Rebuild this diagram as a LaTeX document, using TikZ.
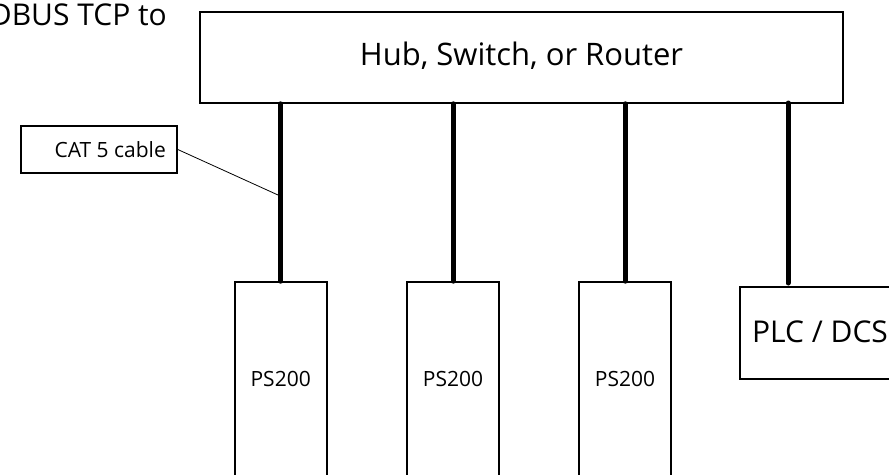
\documentclass[tikz,border=0pt]{standalone}
\usepackage{fontspec}
\setmainfont{Open Sans}
\begin{document}
\begin{tikzpicture}[x=1pt,y=-1pt,
  box/.style={draw=black,line width=1.6pt,fill=white,inner sep=0pt},
  cable/.style={line width=5pt,line cap=round},
  big/.style={font=\fontsize{31}{36}\selectfont,inner sep=0pt},
  mid/.style={font=\fontsize{30}{36}\selectfont,inner sep=0pt},
  small/.style={font=\fontsize{21}{24}\selectfont,inner sep=0pt},
  leader/.style={line width=0.8pt}]
\useasboundingbox (0,0) rectangle (889,474);
\clip (0,0) rectangle (889,474);
\fill[white] (0,0) rectangle (889,474);
% title fragment
\node[mid,anchor=base east] (title) at (167,25) {ODBUS TCP to};
% hub
\node[box,minimum width=643,minimum height=91] (hub) at (521.5,57.5) {};
\node[big] (hubtxt) at (521.5,56) {Hub, Switch, or Router};
% PS200 boxes
\node[box,minimum width=92,minimum height=236] (ps1) at (280.7,400) {};
\node[box,minimum width=92,minimum height=236] (ps2) at (453,400) {};
\node[box,minimum width=92,minimum height=236] (ps3) at (625,400) {};
\node[small] (ps1t) at (280.7,378.5) {PS200};
\node[small] (ps2t) at (453,378.5) {PS200};
\node[small] (ps3t) at (625,378.5) {PS200};
% PLC
\node[box,minimum width=160,minimum height=92] (plc) at (820,333) {};
\node[mid] (plct) at (820,332) {PLC / DCS};
% CAT 5 label
\node[box,minimum width=156,minimum height=47] (cat) at (99,149.5) {};
\node[small,anchor=east] (catt) at (166,150) {CAT 5 cable};
% cables
\draw[cable] (ps1.north |- hub.south) -- (ps1.north);
\draw[cable] (ps2.north |- hub.south) -- (ps2.north);
\draw[cable] (ps3.north |- hub.south) -- (ps3.north);
\coordinate (c4top) at (788,103);
\coordinate (c4end) at (788,283);
\draw[cable] (c4top) -- (c4end);
% leader
\coordinate (lead) at (278,195);
\draw[leader] (cat.east) -- (lead);
\end{tikzpicture}
\end{document}
